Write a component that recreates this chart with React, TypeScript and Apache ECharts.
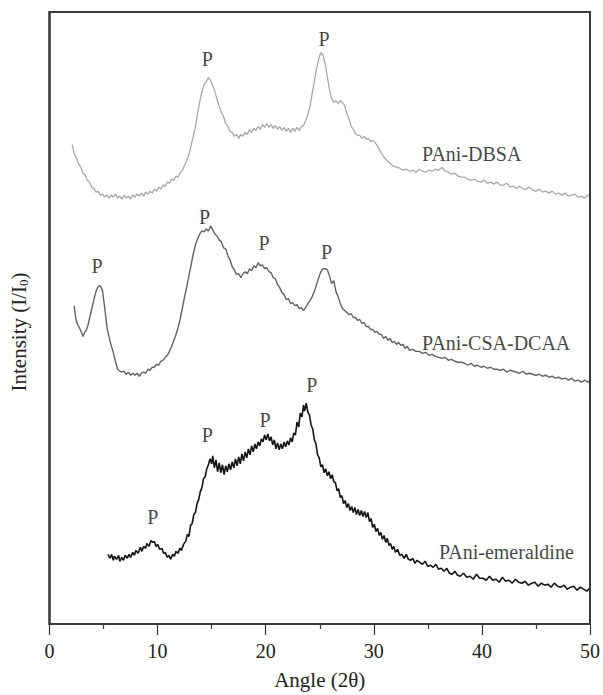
import React, { useEffect, useRef } from "react";
import * as echarts from "echarts";

const FONT = '"Liberation Serif", "Times New Roman", serif';

const xTicks = [0, 10, 20, 30, 40, 50];
const yRange = [0, 615];

const dbsa: number[][] = [
[2.1,482],[2.3,472],[2.5,468],[2.7,462],[2.9,459],[3.1,453],[3.3,451],[3.5,446],[3.7,444],[3.9,439],[4.1,438],[4.3,434],[4.5,435],[4.7,431],[4.9,432],[5.1,429],[5.3,431],[5.5,428],[5.7,431],[5.9,429],[6.1,432],[6.3,428],[6.5,430],[6.7,427],[6.9,431],[7.1,428],[7.3,430],[7.5,427],[7.7,431],[7.9,429],[8.1,432],[8.3,430],[8.5,433],[8.7,430],[8.9,434],[9.1,432],[9.3,435],[9.5,433],[9.7,437],[9.9,435],[10.1,439],[10.3,437],[10.5,441],[10.7,440],[10.9,444],[11.1,443],[11.3,447],[11.5,446],[11.7,450],[11.9,449],[12.1,454],[12.3,456],[12.5,461],[12.7,466],[12.9,472],[13.1,481],[13.3,490],[13.5,500],[13.7,513],[13.9,525],[14.1,535],[14.3,542],[14.5,545],[14.7,549],[14.9,546],[15.1,541],[15.3,535],[15.5,527],[15.7,520],[15.9,514],[16.1,510],[16.3,503],[16.5,500],[16.7,495],[16.9,494],[17.1,490],[17.3,492],[17.5,488],[17.7,492],[17.9,490],[18.1,494],[18.3,492],[18.5,497],[18.7,494],[18.9,498],[19.1,496],[19.3,500],[19.5,497],[19.7,502],[19.9,499],[20.1,503],[20.3,499],[20.5,502],[20.7,498],[20.9,501],[21.1,497],[21.3,500],[21.5,496],[21.7,499],[21.9,495],[22.1,498],[22.3,494],[22.5,498],[22.7,495],[22.9,499],[23.1,496],[23.3,500],[23.5,501],[23.7,506],[23.9,512],[24.1,520],[24.3,533],[24.5,545],[24.7,558],[24.9,568],[25.1,574],[25.3,572],[25.5,563],[25.7,550],[25.9,537],[26.1,528],[26.3,524],[26.5,526],[26.7,523],[26.9,526],[27.1,524],[27.3,521],[27.5,513],[27.7,508],[27.9,500],[28.1,497],[28.3,493],[28.5,491],[28.7,491],[28.9,488],[29.1,490],[29.3,487],[29.5,488],[29.7,485],[29.9,486],[30.1,484],[30.3,481],[30.5,477],[30.7,473],[30.9,470],[31.1,467],[31.3,465],[31.5,463],
[31.8,460],[32.1,459],[32.4,458],[32.7,456],[33.0,457],[33.3,455],[33.6,456],[33.9,454],[34.2,457],[34.5,455],[34.8,454],[35.1,456],[35.4,455],[35.7,457],[36.0,456],[36.3,459],[36.6,455],[36.9,454],[37.2,452],[37.5,453],[37.8,450],[38.1,449],[38.4,449],[38.7,447],[39.0,446],[39.3,447],[39.6,445],[39.9,444],[40.2,446],[40.5,443],[40.8,444],[41.1,442],[41.4,444],[41.7,441],[42.0,441],[42.3,443],[42.6,439],[42.9,440],[43.2,438],[43.5,440],[43.8,437],[44.1,437],[44.4,439],[44.7,436],[45.0,435],[45.3,437],[45.6,434],[45.9,435],[46.2,433],[46.5,435],[46.8,432],[47.1,433],[47.4,431],[47.7,433],[48.0,430],[48.3,431],[48.6,432],[48.9,429],[49.2,430],[49.5,428],[49.8,431],[50.0,429]
];

const csaDcaa: number[][] = [
[2.27,320],[2.45,306],[2.6,301],[2.8,297],[3.0,292],[3.1,289],[3.25,293],[3.4,295],[3.55,300],[3.7,307],[3.85,314],[4.0,321],[4.15,328],[4.3,334],[4.45,338],[4.6,340],[4.75,339],[4.9,335],[5.05,323],[5.2,309],[5.35,296],[5.5,289],[5.7,280],[5.9,273],[6.1,264],[6.3,256],[6.5,254],[6.7,253],[6.9,254],[7.1,251],[7.3,253],[7.5,250],[7.7,252],[7.9,250],[8.1,252],[8.3,249],[8.5,252],[8.7,253],[8.9,252],[9.1,256],[9.3,255],[9.5,258],[9.7,258],[9.9,261],[10.1,260],[10.3,264],[10.5,265],[10.7,268],[10.9,270],[11.1,274],[11.3,279],[11.5,285],[11.7,291],[11.9,298],[12.1,307],[12.3,318],[12.5,329],[12.7,339],[12.9,350],[13.1,361],[13.3,372],[13.5,381],[13.7,387],[13.9,392],[14.1,395],[14.3,394],[14.5,397],[14.7,395],[14.9,400],[15.1,396],[15.3,392],[15.5,390],[15.7,386],[15.9,384],[16.1,378],[16.3,377],[16.5,370],[16.7,366],[16.9,359],[17.1,356],[17.3,351],[17.5,352],[17.7,348],[17.9,352],[18.1,354],[18.3,352],[18.5,357],[18.7,355],[18.9,360],[19.1,358],[19.3,363],[19.5,360],[19.7,361],[19.9,357],[20.1,358],[20.3,354],[20.5,353],[20.7,348],[20.9,347],[21.1,341],[21.3,338],[21.5,333],[21.7,331],[21.9,326],[22.1,327],[22.3,322],[22.5,323],[22.7,320],[22.9,321],[23.1,317],[23.3,318],[23.5,315],[23.7,318],[23.9,322],[24.1,325],[24.3,329],[24.5,334],[24.7,341],[24.9,348],[25.1,354],[25.3,357],[25.5,357],[25.7,356],[25.9,350],[26.1,342],[26.3,345],[26.5,334],[26.7,329],[26.9,322],[27.1,317],[27.3,315],[27.5,313],[27.7,311],[27.9,312],[28.1,308],[28.3,308],[28.5,305],[28.7,306],[28.9,302],[29.1,303],[29.3,299],[29.5,299],[29.7,296],[29.9,296],[30.1,293],[30.3,294],[30.5,291],[30.7,291],[30.9,287],[31.1,289],[31.3,285],[31.5,287],[31.7,283],[31.9,284],[32.1,281],[32.3,283],[32.5,280],[32.7,281],[32.9,277],[33.1,279],
[33.3,275],[33.6,276],[33.9,274],[34.2,274],[34.5,272],[34.8,273],[35.1,270],[35.4,271],[35.7,269],[36.0,268],[36.3,267],[36.6,268],[36.9,265],[37.2,266],[37.5,264],[37.8,263],[38.1,263],[38.4,262],[38.7,260],[39.0,262],[39.3,259],[39.6,260],[39.9,258],[40.2,259],[40.5,257],[40.8,258],[41.1,256],[41.4,256],[41.7,255],[42.0,256],[42.3,253],[42.6,255],[42.9,254],[43.2,253],[43.5,252],[43.8,254],[44.1,251],[44.4,252],[44.7,251],[45.0,250],[45.3,251],[45.6,249],[45.9,250],[46.2,248],[46.5,249],[46.8,247],[47.1,248],[47.4,246],[47.7,247],[48.0,245],[48.3,247],[48.6,244],[48.9,245],[49.2,243],[49.5,245],[49.8,243],[50.0,245]
];

const emeraldine: number[][] = [
[5.4,70],[5.6,66],[5.75,70],[5.9,64],[6.0,68],[6.2,65],[6.4,69],[6.5,63],[6.7,67],[6.85,64],[7.0,69],[7.2,66],[7.35,70],[7.5,67],[7.7,72],[7.85,69],[8.0,74],[8.2,71],[8.4,77],[8.55,73],[8.7,78],[8.9,76],[9.0,81],[9.2,78],[9.4,84],[9.55,82],[9.7,83],[9.85,78],[10.0,80],[10.2,75],[10.4,76],[10.55,71],[10.7,72],[10.9,67],[11.05,69],[11.2,65],[11.4,70],[11.55,68],[11.7,73],[11.9,71],[12.05,76],[12.2,74],[12.4,80],[12.6,83],[12.75,90],[12.9,88],[13.05,99],[13.2,101],[13.35,110],[13.5,112],[13.65,121],[13.8,125],[13.95,133],[14.1,137],[14.25,146],[14.4,148],[14.55,156],[14.7,160],[14.85,166],[15.0,161],[15.1,169],[15.25,157],[15.4,165],[15.55,153],[15.7,162],[15.85,152],[16.0,160],[16.15,150],[16.3,159],[16.45,153],[16.6,161],[16.75,155],[16.9,163],[17.05,157],[17.2,166],[17.35,159],[17.5,168],[17.65,161],[17.8,171],[17.95,164],[18.1,173],[18.25,167],[18.4,176],[18.55,170],[18.7,179],[18.85,173],[19.0,181],[19.15,176],[19.3,183],[19.45,179],[19.6,186],[19.75,183],[19.9,190],[20.05,185],[20.2,191],[20.35,184],[20.5,188],[20.65,180],[20.8,185],[20.95,176],[21.1,182],[21.25,175],[21.4,181],[21.55,176],[21.7,183],[21.85,178],[22.0,184],[22.15,180],[22.3,187],[22.45,183],[22.6,192],[22.75,190],[22.9,203],[23.05,198],[23.2,212],[23.35,208],[23.5,220],[23.6,214],[23.75,222],[23.9,213],[24.05,210],[24.2,200],[24.35,196],[24.5,185],[24.65,181],[24.8,170],[24.95,167],[25.1,158],[25.25,160],[25.4,152],[25.55,156],[25.7,149],[25.85,153],[26.0,146],[26.15,150],[26.3,143],[26.45,142],[26.6,134],[26.75,136],[26.9,127],[27.05,129],[27.2,121],[27.35,124],[27.5,117],[27.65,121],[27.8,114],[27.95,118],[28.1,112],[28.25,117],[28.4,110],[28.55,115],[28.7,109],[28.85,114],[29.0,108],[29.15,113],[29.3,107],[29.45,112],[29.6,103],[29.75,106],[29.9,97],[30.05,100],[30.2,93],[30.35,96],[30.5,89],[30.65,92],[30.8,85],[30.95,89],[31.1,82],[31.25,86],[31.4,79],[31.55,81],[31.7,75],[31.85,78],
[32.0,72],[32.2,75],[32.4,69],[32.6,70],[32.8,66],[33.0,70],[33.2,65],[33.4,64],[33.6,66],[33.8,61],[34.0,64],[34.25,62],[34.5,60],[34.75,63],[35.0,58],[35.25,59],[35.5,57],[35.75,60],[36.0,55],[36.25,56],[36.5,53],[36.75,56],[37.0,51],[37.25,50],[37.5,53],[37.75,49],[38.0,48],[38.3,51],[38.6,47],[38.9,48],[39.2,45],[39.5,50],[39.8,46],[40.1,46],[40.4,44],[40.7,48],[41.0,44],[41.3,45],[41.6,42],[41.9,47],[42.2,43],[42.5,44],[42.8,41],[43.1,45],[43.4,42],[43.7,41],[44.0,43],[44.3,39],[44.6,41],[44.9,42],[45.2,38],[45.5,41],[45.8,39],[46.1,40],[46.4,37],[46.7,41],[47.0,38],[47.3,37],[47.6,39],[47.9,35],[48.2,37],[48.5,38],[48.8,34],[49.1,37],[49.4,35],[49.7,33],[50.0,36]
];

// peak markers "P" anchored at [angle, intensity]
const peakMarks: number[][] = [
  [14.6, 568], [25.4, 588],
  [4.4, 360], [14.34, 409], [19.85, 383], [25.64, 374],
  [9.56, 108], [14.6, 190], [19.94, 205], [24.26, 240],
];

const seriesNames = ["PAni-DBSA", "PAni-CSA-DCAA", "PAni-emeraldine"];
const nameAnchors: number[][] = [[34.47, 472], [34.47, 282], [36.03, 72]];

export default function App() {
  const ref = useRef<HTMLDivElement>(null);
  useEffect(() => {
    document.body.style.margin = "0";
    const chart = echarts.init(ref.current!, null, { renderer: "svg" });
    const lineBase = {
      type: "line",
      showSymbol: false,
      symbol: "none",
      silent: true,
      smooth: false,
    };
    const axisColor = "#333333";
    chart.setOption({
      animation: false,
      grid: {
        left: 48,
        top: 12,
        width: 544,
        height: 615,
        show: true,
        borderColor: "#3a3a3a",
        borderWidth: 2,
      },
      xAxis: {
        type: "value",
        min: xTicks[0],
        max: xTicks[xTicks.length - 1],
        interval: 10,
        name: "Angle (2θ)",
        nameLocation: "middle",
        nameGap: 45,
        nameTextStyle: { fontFamily: FONT, fontSize: 21, color: "#222" },
        axisLine: { show: true, onZero: false, lineStyle: { color: axisColor, width: 1.2 } },
        axisTick: { show: true, inside: false, length: 11, lineStyle: { color: axisColor, width: 1.2 } },
        minorTick: { show: true, splitNumber: 2, length: 5, lineStyle: { color: axisColor, width: 1.2 } },
        axisLabel: { fontFamily: FONT, fontSize: 20, color: "#222", margin: 17 },
        splitLine: { show: false },
      },
      yAxis: {
        type: "value",
        min: yRange[0],
        max: yRange[1],
        name: "Intensity (I/I{sub|0})",
        nameLocation: "middle",
        nameGap: 20,
        nameTextStyle: {
          fontFamily: FONT,
          fontSize: 21,
          color: "#222",
          padding: [0, 28, 0, 0],
          rich: {
            sub: { fontFamily: FONT, fontSize: 13, color: "#222", padding: [9, 0, 0, 0] },
          },
        },
        axisLine: { show: true, onZero: false, lineStyle: { color: axisColor, width: 1.2 } },
        axisTick: { show: false },
        axisLabel: { show: false },
        splitLine: { show: false },
      },
      series: [
        {
          ...lineBase,
          name: seriesNames[0],
          data: dbsa,
          lineStyle: { color: "#a8a8a8", width: 1.3 },
          markLine: {
            silent: true,
            symbol: "none",
            label: { show: false },
            lineStyle: { color: "#3a3a3a", width: 2, type: "solid" },
            data: [{ yAxis: yRange[1] }, { xAxis: xTicks[xTicks.length - 1] }],
          },
        },
        { ...lineBase, name: seriesNames[1], data: csaDcaa, lineStyle: { color: "#636363", width: 1.4 } },
        { ...lineBase, name: seriesNames[2], data: emeraldine, lineStyle: { color: "#151515", width: 1.6 } },
        {
          type: "scatter",
          name: "peaks",
          silent: true,
          symbol: "circle",
          symbolSize: 2,
          itemStyle: { color: "rgba(0,0,0,0)" },
          data: peakMarks,
          label: {
            show: true,
            position: "inside",
            formatter: "P",
            fontFamily: FONT,
            fontSize: 20,
            color: "#111",
          },
        },
        {
          type: "scatter",
          name: "labels",
          silent: true,
          symbol: "circle",
          symbolSize: 2,
          itemStyle: { color: "rgba(0,0,0,0)" },
          data: nameAnchors.map((p, i) => ({ value: p, name: seriesNames[i] })),
          label: {
            show: true,
            position: "inside",
            align: "left",
            formatter: "{b}",
            fontFamily: FONT,
            fontSize: 20,
            color: "#111",
          },
        },
      ],
    });
    // plot-box frame, placed from the axes' own scales
    const tl = chart.convertToPixel({ gridIndex: 0 }, [xTicks[0], yRange[1]]) as number[];
    const br = chart.convertToPixel({ gridIndex: 0 }, [xTicks[xTicks.length - 1], yRange[0]]) as number[];
    chart.setOption({
      graphic: [
        {
          type: "rect",
          z: 100,
          shape: { x: tl[0], y: tl[1], width: br[0] - tl[0], height: br[1] - tl[1] },
          style: { stroke: "#3a3a3a", lineWidth: 2, fill: "none" },
        },
      ],
    });
    return () => chart.dispose();
  }, []);
  return <div ref={ref} style={{ width: 603, height: 695 }} />;
}
